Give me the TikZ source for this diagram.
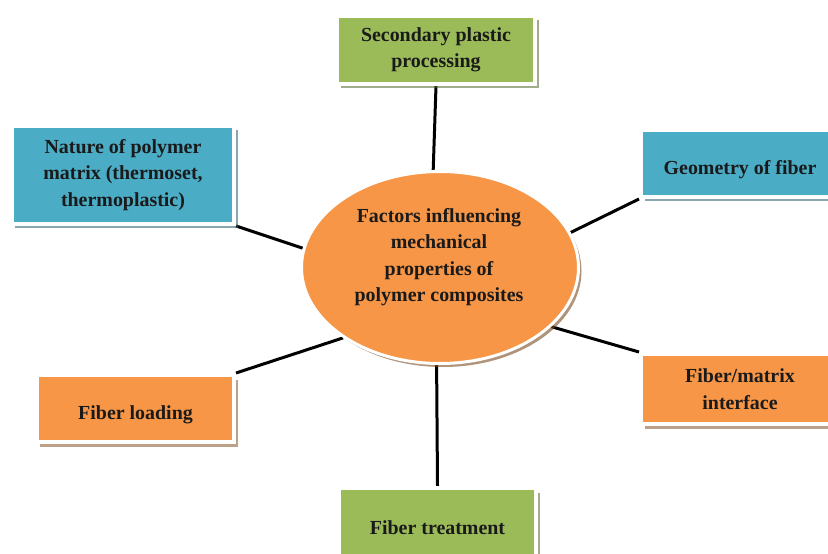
\documentclass[tikz,border=0pt]{standalone}
\usepackage{fontspec}
\setmainfont{Liberation Serif}
\usetikzlibrary{shapes.geometric,shadows,backgrounds}

\definecolor{boxgreen}{HTML}{9BBB59}
\definecolor{boxblue}{HTML}{4BACC6}
\definecolor{boxorange}{HTML}{F79646}
\definecolor{inkdark}{HTML}{1A1A1A}

\tikzset{
  labelfont/.style={font=\fontsize{20}{26.5}\selectfont\bfseries, text=inkdark},
  factor/.style={rectangle, fill=#1, draw=white, line width=4bp, inner sep=2bp,
    align=center, labelfont,
    drop shadow={shadow xshift=3.5bp, shadow yshift=-4.5bp, fill=#1!55!black, opacity=.55}},
  % single-line captions sit a little below the middle of their box
  lowline/.style={text height=26bp, text depth=4bp},
  hub/.style={ellipse, fill=boxorange, draw=white, line width=3bp, inner sep=0pt,
    drop shadow={shadow xshift=3bp, shadow yshift=-3.5bp, fill=boxorange!50!black, opacity=.6}},
  hubtext/.style={align=center, labelfont, inner sep=0pt},
  link/.style={draw=black, line width=3bp},
}

\begin{document}
\begin{tikzpicture}[x=1bp,y=-1bp]
  \useasboundingbox (0,0) rectangle (828,554);
  \clip (0,0) rectangle (828,554);

  % central ellipse and its caption
  \node[hub, minimum width=277bp, minimum height=192bp] (ell) at (440,267.5) {};
  \node[hubtext] (core) at (439,257)
    {Factors influencing\\mechanical\\properties of\\polymer composites};

  % surrounding factor boxes
  \node[factor=boxgreen, minimum width=198bp, minimum height=68bp] (sec) at (436,50)
    {Secondary plastic\\processing};
  \node[factor=boxblue, minimum width=222bp, minimum height=98bp] (nat) at (123,175)
    {Nature of polymer\\matrix (thermoset,\\thermoplastic)};
  \node[factor=boxblue, lowline, minimum width=198bp, minimum height=67bp] (geo) at (740,163.5)
    {Geometry of fiber};
  \node[factor=boxorange, minimum width=198bp, minimum height=70bp] (fm) at (740,389)
    {Fiber/matrix\\interface};
  \node[factor=boxorange, lowline, minimum width=197bp, minimum height=67bp] (ld) at (135.5,408.5)
    {Fiber loading};
  \node[factor=boxgreen, lowline, minimum width=197bp, minimum height=70bp] (trt) at (437.5,523)
    {Fiber treatment};

  % connectors, kept behind the shapes
  \begin{scope}[on background layer]
    \fill[white] (0,0) rectangle (828,554);
    \draw[link] (sec.south) -- (ell.94);
    \draw[link] (nat.south east) -- (ell.172);
    \draw[link] (geo.south west) -- (ell.15);
    \draw[link] (fm.north west) -- (ell.-28);
    \draw[link] (ld.north east) -- (ell.216);
    \draw[link] (trt.north) -- (ell.268);
  \end{scope}
\end{tikzpicture}
\end{document}
